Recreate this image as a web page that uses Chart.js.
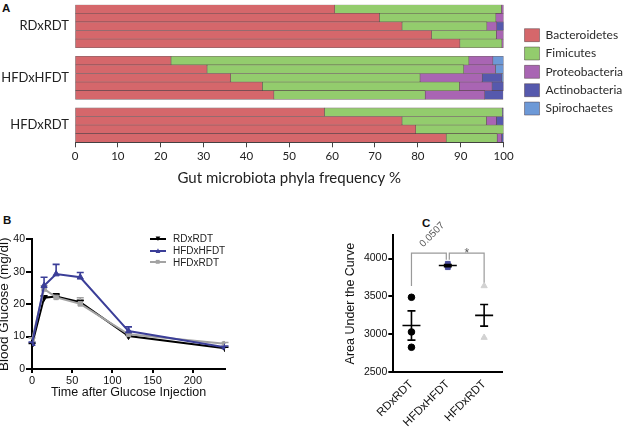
<!DOCTYPE html>
<html>
<head>
<meta charset="utf-8">
<script src="https://cdn.jsdelivr.net/npm/chart.js@4.4.1/dist/chart.umd.min.js"></script>
<style>
  html, body { margin: 0; padding: 0; background: #fff; width: 629px; height: 427px; overflow: hidden; }
  canvas { position: absolute; }
  .tag { position: absolute; font: bold 11.5px "Liberation Sans", Arial, sans-serif; color: #111; line-height: 1; }
  #legendB { position: absolute; left: 150px; top: 233px; font: 10px "Liberation Sans", Arial, sans-serif; color: #222; }
  #legendB .row { display: flex; align-items: center; height: 11.7px; }
  #legendB .ln { position: relative; width: 16px; height: 2px; margin-right: 7px; }
  #legendB .mk { position: absolute; left: 50%; top: 50%; transform: translate(-50%, -52%); font-size: 8px; line-height: 1; }
</style>
</head>
<body>
<div class="tag" style="left:2px;top:3px">A</div>
<div class="tag" style="left:3px;top:215px">B</div>
<div class="tag" style="left:422px;top:218px">C</div>
<canvas id="chartA" width="623" height="191" style="left:0;top:0"></canvas>
<canvas id="chartB" width="240" height="217" style="left:0;top:210px"></canvas>
<canvas id="chartC" width="200" height="222" style="left:330px;top:205px"></canvas>
<div id="legendB"></div>
<script>
// ---------- panel A: phyla frequency per mouse ----------
const groupNames = ["RDxRDT", "HFDxHFDT", "HFDxRDT"];
// group of each bar row, null = spacer row between groups
const rowGroup = [0, 0, 0, 0, 0, null, 1, 1, 1, 1, 1, null, 2, 2, 2, 2];
const phyla = ["Bacteroidetes", "Fimicutes", "Proteobacteria", "Actinobacteria", "Spirochaetes"];
const bacteroidetes = [60.6, 71.0, 76.3, 83.2, 89.8, null, 22.4, 30.8, 36.3, 43.7, 46.4, null, 58.2, 76.3, 79.5, 86.6];
const firmicutes = [38.9, 27.2, 19.8, 15.1, 9.8, null, 69.5, 59.9, 44.2, 46.0, 35.3, null, 41.5, 19.7, 20.5, 11.9];
const proteobacteria = [0.5, 1.8, 2.3, 1.7, 0.4, null, 5.6, 7.4, 14.5, 7.6, 13.9, null, null, 2.3, null, 1.0];
const actinobacteria = [null, null, 1.7, null, null, null, null, null, 4.6, 2.7, 4.3, null, 0.3, 1.7, null, 0.5];
const spirochaetes = [null, null, null, null, null, null, 2.5, 1.9, 0.4, null, null, null, null, null, null, null];
const phylaColors = ["#d5676b", "#93cc6d", "#a965b3", "#5659ad", "#6d99d7"];

// ---------- panel B: glucose tolerance ----------
const times = [0, 15, 30, 60, 120, 240];
const rdRdt = [7.5, 22.0, 22.4, 20.6, 10.2, 6.4];
const rdRdtErr = [0.4, 0.6, 0.8, 0.6, 0.4, 0.3];
const hfdHfdt = [7.8, 25.7, 29.3, 28.3, 11.7, 6.7];
const hfdHfdtErr = [0.5, 2.6, 3.0, 1.5, 1.3, 0.4];
const hfdRdt = [9.0, 24.7, 22.1, 20.1, 10.7, 7.8];
const hfdRdtErr = [0.6, 1.0, 0.5, 1.9, 0.6, 0.4];

// ---------- panel C: area under the curve ----------
const aucLabels = ["RDxRDT", "HFDxHFDT", "HFDxRDT"];
const aucTicks = [2500, 3000, 3500, 4000];
const aucRdRdt = [3489, 3032, 2830];
const aucHfdHfdt = [3886, 3905, 3930];
const aucHfdRdt = [3639, 2958];
const aucMean = [3117, 3907, 3251];
const aucSem = [193, 15, 142];
const brackets = [
  { from: 0, to: 1, top: 4071, legs: [3639, 3983], text: "0.0507" },
  { from: 1, to: 2, top: 4071, legs: [3983, 3683], text: "*" }
];

const fontA = "Lato";
const fontBC = "'Liberation Sans', Arial, sans-serif";

// ---------- chart A ----------
const groupCenters = groupNames.map((g, gi) => {
  const rows = rowGroup.map((v, i) => (v === gi ? i : null)).filter(v => v !== null);
  return rows.reduce((a, b) => a + b, 0) / rows.length;
});
const phylaValues = [bacteroidetes, firmicutes, proteobacteria, actinobacteria, spirochaetes];

new Chart(document.getElementById("chartA"), {
  type: "bar",
  data: {
    datasets: phyla.map((name, k) => ({
      label: name,
      data: phylaValues[k]
        .map((v, i) => ({ x: v, y: i }))
        .filter(p => p.x !== null),
      backgroundColor: phylaColors[k],
      borderColor: "rgba(70,50,55,0.75)",
      borderWidth: 0.6,
      borderSkipped: false,
      barPercentage: 1,
      categoryPercentage: 1
    }))
  },
  options: {
    indexAxis: "y",
    responsive: false,
    animation: false,
    layout: { padding: { top: 4.7, bottom: 0, left: 0, right: 0 } },
    plugins: {
      tooltip: { enabled: false },
      legend: {
        position: "right",
        align: "start",
        title: { display: true, text: "", font: { size: 10, lineHeight: 1 }, padding: { top: 8.6, bottom: 0 } },
        labels: {
          boxWidth: 15,
          boxHeight: 13,
          padding: 5.35,
          color: "#2a2a2a",
          font: { family: fontA, size: 12 }
        }
      }
    },
    scales: {
      x: {
        type: "linear",
        stacked: true,
        min: 0,
        max: 100,
        ticks: { stepSize: 10, color: "#222", font: { family: fontA, size: 11.5 }, padding: 2 },
        grid: { drawOnChartArea: false, tickLength: 5, color: "#444" },
        border: { color: "#444" },
        title: {
          display: true,
          text: "Gut microbiota phyla frequency %",
          color: "#222",
          font: { family: fontA, size: 15 },
          padding: { top: 0, bottom: 4 }
        },
        afterFit: s => { s.height = 48.7; }
      },
      y: {
        type: "linear",
        stacked: true,
        reverse: true,
        offset: false,
        min: -0.5,
        max: 15.5,
        grid: { display: false, drawTicks: false },
        border: { display: false },
        afterBuildTicks: s => { s.ticks = groupCenters.map(v => ({ value: v })); },
        ticks: {
          autoSkip: false,
          padding: 6,
          color: "#222",
          font: { family: fontA, size: 13 },
          callback: (v, i) => groupNames[i]
        },
        afterFit: s => { s.width = 75; s.paddingTop = 0; s.paddingBottom = 0; }
      },
      gap: {
        type: "linear",
        position: "right",
        display: true,
        grid: { display: false },
        border: { display: false },
        ticks: { display: false },
        afterFit: s => { s.width = 15.6; s.paddingTop = 0; s.paddingBottom = 0; }
      }
    }
  }
});

// ---------- chart B ----------
const errorBars = {
  id: "errorBars",
  beforeDatasetsDraw(chart) {
    const { ctx, scales: { x, y } } = chart;
    chart.data.datasets.forEach(ds => {
      if (!ds.errors) return;
      ctx.save();
      ctx.strokeStyle = ds.borderColor;
      ctx.lineWidth = 1.6;
      ds.data.forEach((p, i) => {
        const px = x.getPixelForValue(p.x);
        const y0 = y.getPixelForValue(p.y);
        const y1 = y.getPixelForValue(p.y + ds.errors[i]);
        ctx.beginPath();
        ctx.moveTo(px, y0);
        ctx.lineTo(px, y1);
        ctx.moveTo(px - 3.5, y1);
        ctx.lineTo(px + 3.5, y1);
        ctx.stroke();
      });
      ctx.restore();
    });
  }
};

const seriesB = [
  { label: "RDxRDT", values: rdRdt, errors: rdRdtErr, color: "#000000", style: "triangle", rotation: 180, order: 3, glyph: "\u25BC" },
  { label: "HFDxHFDT", values: hfdHfdt, errors: hfdHfdtErr, color: "#3b3e98", style: "triangle", rotation: 0, order: 1, glyph: "\u25B2" },
  { label: "HFDxRDT", values: hfdRdt, errors: hfdRdtErr, color: "#a3a3a3", style: "rect", rotation: 0, order: 2, glyph: "\u25A0" }
];

new Chart(document.getElementById("chartB"), {
  type: "line",
  data: {
    datasets: seriesB.map(s => ({
      label: s.label,
      data: times.map((t, i) => ({ x: t, y: s.values[i] })),
      errors: s.errors,
      borderColor: s.color,
      backgroundColor: s.color,
      pointBackgroundColor: s.color,
      pointBorderColor: s.color,
      pointStyle: s.style,
      rotation: s.rotation,
      pointRadius: s.style === "rect" ? 3.2 : 3.6,
      pointBorderWidth: 1,
      borderWidth: 2,
      tension: 0,
      order: s.order
    }))
  },
  options: {
    responsive: false,
    animation: false,
    layout: { padding: { top: 29.4, right: 15, left: 0, bottom: 0 } },
    plugins: { legend: { display: false }, tooltip: { enabled: false } },
    scales: {
      x: {
        type: "linear",
        min: 0,
        max: 240,
        ticks: { stepSize: 50, includeBounds: false, color: "#111", font: { family: fontBC, size: 11 }, padding: 1 },
        grid: { drawOnChartArea: false, tickLength: 4, color: "#000", lineWidth: 2 },
        border: { color: "#000", width: 2 },
        title: {
          display: true,
          text: "Time after Glucose Injection",
          color: "#111",
          font: { family: fontBC, size: 12.5 },
          padding: { top: 0, bottom: 26.5 }
        },
        afterFit: s => { s.height = 58; }
      },
      y: {
        min: 0,
        max: 40,
        ticks: { stepSize: 10, color: "#111", font: { family: fontBC, size: 10.5 }, padding: 1 },
        grid: { drawOnChartArea: false, tickLength: 6, color: "#000", lineWidth: 2 },
        border: { color: "#000", width: 2 },
        title: {
          display: true,
          text: "Blood Glucose (mg/dl)",
          color: "#111",
          font: { family: fontBC, size: 13.5, lineHeight: 1 },
          padding: { top: -2, bottom: 0 }
        },
        afterFit: s => { s.width = 32; }
      }
    }
  },
  plugins: [errorBars]
});

// legend of panel B, built from the same series
const legendB = document.getElementById("legendB");
seriesB.forEach(s => {
  const row = document.createElement("div");
  row.className = "row";
  const ln = row.appendChild(document.createElement("span"));
  ln.className = "ln";
  ln.style.background = s.color;
  const mk = ln.appendChild(document.createElement("span"));
  mk.className = "mk";
  mk.style.color = s.color;
  mk.textContent = s.glyph;
  row.appendChild(document.createTextNode(s.label));
  legendB.appendChild(row);
});

// ---------- chart C ----------
const meanSem = {
  id: "meanSem",
  afterDatasetsDraw(chart) {
    const { ctx, scales: { x, y } } = chart;
    ctx.save();
    ctx.strokeStyle = "#000";
    ctx.lineWidth = 1.6;
    aucMean.forEach((m, i) => {
      const px = x.getPixelForValue(i);
      const ym = y.getPixelForValue(m);
      const yt = y.getPixelForValue(m + aucSem[i]);
      const yb = y.getPixelForValue(m - aucSem[i]);
      ctx.beginPath();
      ctx.moveTo(px - 9, ym); ctx.lineTo(px + 9, ym);
      ctx.moveTo(px, yt); ctx.lineTo(px, yb);
      ctx.moveTo(px - 4, yt); ctx.lineTo(px + 4, yt);
      ctx.moveTo(px - 4, yb); ctx.lineTo(px + 4, yb);
      ctx.stroke();
    });
    // significance brackets
    ctx.strokeStyle = "#9a9a9a";
    ctx.lineWidth = 1.2;
    ctx.fillStyle = "#555";
    brackets.forEach(b => {
      const x0 = x.getPixelForValue(b.from) + (b.from === 1 ? 1.5 : 0);
      const x1 = x.getPixelForValue(b.to) - (b.to === 1 ? 1.5 : 0);
      const yt = y.getPixelForValue(b.top);
      ctx.beginPath();
      ctx.moveTo(x0, y.getPixelForValue(b.legs[0]));
      ctx.lineTo(x0, yt);
      ctx.lineTo(x1, yt);
      ctx.lineTo(x1, y.getPixelForValue(b.legs[1]));
      ctx.stroke();
      const mx = (x0 + x1) / 2;
      if (b.text === "*") {
        ctx.font = "12px " + fontBC;
        ctx.textAlign = "center";
        ctx.textBaseline = "alphabetic";
        ctx.fillText(b.text, mx, yt + 4);
      } else {
        ctx.save();
        ctx.translate(mx - 4, yt - 4);
        ctx.rotate(-Math.PI / 4);
        ctx.font = "10px " + fontBC;
        ctx.textAlign = "left";
        ctx.textBaseline = "bottom";
        ctx.fillText(b.text, 0, 0);
        ctx.restore();
      }
    });
    ctx.restore();
  }
};

const seriesC = [
  { values: aucRdRdt, style: "circle", color: "#000000", radius: 3.3 },
  { values: aucHfdHfdt, style: "rect", color: "#4a4d9e", radius: 3.4 },
  { values: aucHfdRdt, style: "triangle", color: "#d2d2d2", radius: 3.6 }
];

new Chart(document.getElementById("chartC"), {
  type: "line",
  data: {
    labels: aucLabels,
    datasets: seriesC.map((s, k) => ({
      data: s.values.map(v => ({ x: aucLabels[k], y: v })),
      showLine: false,
      pointStyle: s.style,
      pointRadius: s.radius,
      pointBackgroundColor: s.color,
      pointBorderColor: s.color,
      pointBorderWidth: 1
    }))
  },
  options: {
    responsive: false,
    animation: false,
    layout: { padding: { top: 30, right: 27.7, left: 0, bottom: 0 } },
    plugins: { legend: { display: false }, tooltip: { enabled: false } },
    scales: {
      x: {
        type: "category",
        offset: true,
        grid: { display: true, drawOnChartArea: false, drawTicks: false, color: "#000" },
        border: { color: "#000", width: 2 },
        ticks: { minRotation: 45, maxRotation: 45, padding: 5, color: "#111", font: { family: fontBC, size: 11.5 } },
        afterFit: s => { s.height = 54.7; }
      },
      y: {
        min: 2500,
        max: 4310,
        afterBuildTicks: s => { s.ticks = aucTicks.map(v => ({ value: v })); },
        ticks: { color: "#111", font: { family: fontBC, size: 10.5 }, padding: 1, callback: v => String(v) },
        grid: { drawOnChartArea: false, tickLength: 5, color: "#000", lineWidth: 2 },
        border: { color: "#000", width: 2 },
        title: {
          display: true,
          text: "Area Under the Curve",
          color: "#111",
          font: { family: fontBC, size: 12.5 },
          padding: { top: 13.5, bottom: 0 }
        },
        afterFit: s => { s.width = 63.3; }
      }
    }
  },
  plugins: [meanSem]
});
</script>
</body>
</html>
